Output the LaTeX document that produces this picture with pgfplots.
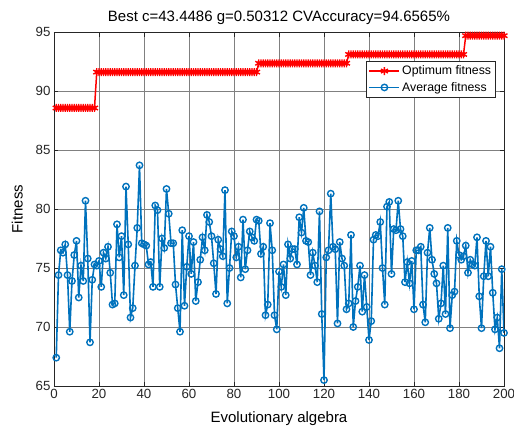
\documentclass[border=0pt]{standalone}
\usepackage{pgfplots}
\pgfplotsset{compat=1.18}
\usepackage{pgfplotstable}
\usepackage{fontspec}
\setmainfont{Liberation Sans}
\usetikzlibrary{calc}
\definecolor{mblue}{rgb}{0,0.447,0.741}
\definecolor{gridc}{rgb}{0.5,0.5,0.5}
\pgfplotstableread{
x opt avg
1 88.56 67.4
2 88.56 74.4
3 88.56 76.5
4 88.56 76.3
5 88.56 77.0
6 88.56 74.4
7 88.56 69.6
8 88.56 73.9
9 88.56 76.1
10 88.56 77.3
11 88.56 72.5
12 88.56 75.2
13 88.56 73.9
14 88.56 80.7
15 88.56 75.8
16 88.56 68.7
17 88.56 74.0
18 88.56 75.3
19 91.6 75.2
20 91.6 75.6
21 91.6 73.4
22 91.6 76.3
23 91.6 75.8
24 91.6 76.8
25 91.6 74.6
26 91.6 71.9
27 91.6 72.0
28 91.6 78.7
29 91.6 75.9
30 91.6 77.7
31 91.6 72.7
32 91.6 81.9
33 91.6 77.0
34 91.6 70.8
35 91.6 71.6
36 91.6 75.2
37 91.6 78.4
38 91.6 83.7
39 91.6 77.1
40 91.6 77.0
41 91.6 76.9
42 91.6 75.3
43 91.6 75.5
44 91.6 73.4
45 91.6 80.3
46 91.6 79.9
47 91.6 73.4
48 91.6 77.5
49 91.6 76.7
50 91.6 81.7
51 91.6 79.6
52 91.6 77.1
53 91.6 77.1
54 91.6 73.6
55 91.6 71.6
56 91.6 69.6
57 91.6 78.2
58 91.6 71.8
59 91.6 75.1
60 91.6 77.7
61 91.6 74.5
62 91.6 77.2
63 91.6 72.2
64 91.6 73.8
65 91.6 75.7
66 91.6 77.6
67 91.6 76.5
68 91.6 79.5
69 91.6 78.9
70 91.6 77.7
71 91.6 75.4
72 91.6 72.8
73 91.6 77.4
74 91.6 76.6
75 91.6 76.0
76 91.6 81.6
77 91.6 72.0
78 91.6 75.0
79 91.6 78.1
80 91.6 77.7
81 91.6 75.9
82 91.6 76.8
83 91.6 74.2
84 91.6 79.1
85 91.6 74.9
86 91.6 76.5
87 91.6 78.1
88 91.6 77.6
89 91.6 77.3
90 91.6 79.1
91 92.35 79.0
92 92.35 76.2
93 92.35 76.8
94 92.35 71.0
95 92.35 71.9
96 92.35 78.8
97 92.35 76.5
98 92.35 71.0
99 92.35 69.8
100 92.35 74.7
101 92.35 73.4
102 92.35 75.3
103 92.35 72.7
104 92.35 77.0
105 92.35 75.8
106 92.35 76.6
107 92.35 76.6
108 92.35 75.3
109 92.35 79.3
110 92.35 78.0
111 92.35 80.1
112 92.35 77.3
113 92.35 77.2
114 92.35 74.4
115 92.35 76.3
116 92.35 75.2
117 92.35 73.8
118 92.35 79.8
119 92.35 71.1
120 92.35 65.5
121 92.35 75.9
122 92.35 76.5
123 92.35 81.3
124 92.35 76.8
125 92.35 76.6
126 92.35 70.3
127 92.35 77.2
128 92.35 75.8
129 92.35 75.2
130 92.35 71.5
131 93.1 72.0
132 93.1 77.8
133 93.1 70.0
134 93.1 72.2
135 93.1 73.4
136 93.1 75.2
137 93.1 71.3
138 93.1 74.4
139 93.1 71.7
140 93.1 68.9
141 93.1 70.5
142 93.1 77.4
143 93.1 77.8
144 93.1 77.7
145 93.1 78.9
146 93.1 75.0
147 93.1 71.9
148 93.1 80.2
149 93.1 80.6
150 93.1 74.5
151 93.1 78.3
152 93.1 78.2
153 93.1 80.7
154 93.1 78.3
155 93.1 77.7
156 93.1 73.8
157 93.1 75.5
158 93.1 73.7
159 93.1 75.6
160 93.1 71.5
161 93.1 76.5
162 93.1 76.5
163 93.1 76.8
164 93.1 71.9
165 93.1 70.4
166 93.1 76.3
167 93.1 78.4
168 93.1 75.7
169 93.1 74.5
170 93.1 73.7
171 93.1 70.7
172 93.1 72.0
173 93.1 75.2
174 93.1 71.1
175 93.1 78.4
176 93.1 69.9
177 93.1 72.7
178 93.1 73.0
179 93.1 77.3
180 93.1 76.1
181 93.1 75.7
182 93.1 76.0
183 94.69 76.9
184 94.69 74.6
185 94.69 75.7
186 94.69 75.3
187 94.69 75.2
188 94.69 77.6
189 94.69 72.6
190 94.69 69.9
191 94.69 74.3
192 94.69 77.3
193 94.69 74.3
194 94.69 76.8
195 94.69 72.9
196 94.69 69.8
197 94.69 70.8
198 94.69 68.2
199 94.69 74.9
200 94.69 69.5
}\datatable
\begin{document}
\begin{tikzpicture}
\begin{axis}[
  name=ax,
  scale only axis, width=450pt, height=354pt,
  xmin=0, xmax=200, ymin=65, ymax=95,
  xtick={0,20,...,200}, ytick={65,70,...,95},
  /pgf/number format/assume math mode=true,
  tick label style={font=\fontsize{13.3}{16}\selectfont, color=black!85},
  label style={font=\fontsize{15}{18}\selectfont},
  title style={font=\fontsize{15}{18}\selectfont, yshift=-2pt},
  title={Best c=43.4486 g=0.50312 CVAccuracy=94.6565\%},
  xlabel={Evolutionary algebra}, ylabel={Fitness},
  xlabel style={yshift=-6pt}, ylabel style={yshift=6pt},
  grid=major, major grid style={gridc, line width=0.6pt},
  axis line style={black!85, line width=0.6pt},
  tick align=inside, major tick length=4.5pt,
  tick style={black!85, line width=0.6pt},
  legend style={at={(0.982,0.918)}, anchor=north east, draw=black!85, line width=0.6pt,
    font=\fontsize{12.3}{14}\selectfont, row sep=2pt, inner sep=2.5pt},
  legend cell align=left,
  legend image code/.code={\draw[mark repeat=2,mark phase=2,#1] plot coordinates {(0pt,0pt) (15pt,0pt) (30pt,0pt)};},
]
\addplot[red, line width=1.5pt, mark=asterisk, mark size=4pt, mark options={line width=1.4pt}] table[x=x, y=opt] {\datatable};
\addlegendentry{Optimum fitness}
\addplot[mblue, line width=1.6pt, mark=o, mark size=3.2pt, mark options={line width=1.4pt}] table[x=x, y=avg] {\datatable};
\addlegendentry{Average fitness}
\end{axis}
\pgfresetboundingbox
\path[use as bounding box] ($(ax.south west)+(-54pt,-48pt)$) rectangle ($(ax.north east)+(10pt,32pt)$);
\end{tikzpicture}
\end{document}
